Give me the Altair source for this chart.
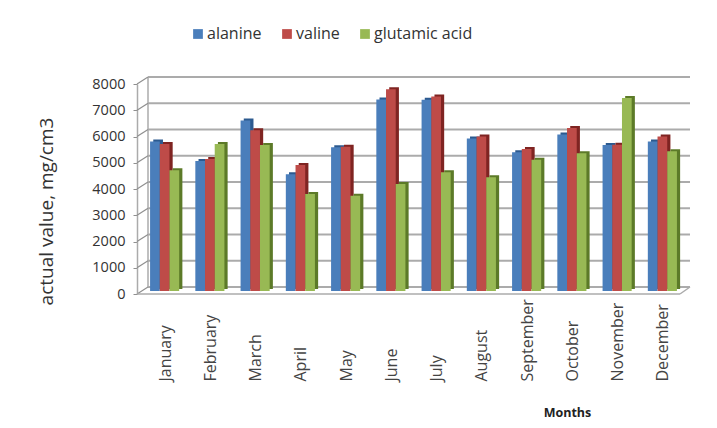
import altair as alt
import pandas as pd

months = ["January", "February", "March", "April", "May", "June", "July",
          "August", "September", "October", "November", "December"]
alanine = [5700, 4950, 6500, 4450, 5480, 7300, 7290, 5810, 5290, 5960, 5560, 5700]
valine = [5600, 5030, 6120, 4800, 5500, 7690, 7410, 5890, 5410, 6210, 5570, 5890]
glutamic = [4600, 5600, 5560, 3700, 3630, 4080, 4520, 4330, 5000, 5250, 7350, 5320]
series_names = ["alanine", "valine", "glutamic acid"]
front_colors = ["#4a7ebb", "#be4b48", "#98b954"]
side_colors = ["#2c5a8f", "#7f2422", "#5c7a28"]
ticks = [0, 1000, 2000, 3000, 4000, 5000, 6000, 7000, 8000]

GRID = "#ababab"
FONT = "Open Sans"
BAR_W = 9.7

rows = []
for name, vals in zip(series_names, [alanine, valine, glutamic]):
    for m, v in zip(months, vals):
        rows.append({"month": m, "series": name, "value": v})
data = pd.DataFrame(rows)
grid = pd.DataFrame({"v": ticks, "top": [8000] * len(ticks)})

y_scale = alt.Scale(domain=[0, 8000], range=[210, 0], nice=False)
x_scale = alt.Scale(domain=months, paddingInner=0.35, paddingOuter=0.175)

# Every layer shares one axis definition so that they merge into a single axis
y_axis = alt.Axis(values=ticks, title="actual value, mg/cm3", titleX=-81, titleY=127, titleFont=FONT,
                  titleFontSize=19, titleFontWeight="normal", titleColor="#333333", titleAngle=-90,
                  titleAnchor="middle", titleAlign="center", labelFont=FONT, labelFontSize=14.5,
                  labelColor="#333333", labelPadding=8, tickSize=4, tickColor="#8f8f8f",
                  domainColor=GRID, domainWidth=1.5, grid=False, format="d")
x_axis = alt.Axis(title="Months", titleX=430, titleY=112, titleFont=FONT, titleFontSize=12.5,
                  titleFontWeight="bold", titleColor="#222222", titleAnchor="middle", titleAlign="center",
                  labelAngle=-90, labelAlign="left", labelOffset=6, labelPadding=87, labelFont=FONT,
                  labelFontSize=16, labelColor="#444444", ticks=False, domain=False, grid=False)

y_plain = alt.Y("v:Q", scale=y_scale, axis=y_axis)
base = grid[grid.v == 0]

# Back wall: horizontal gridlines and its left edge
back = alt.Chart(grid).mark_rule(color=GRID, strokeWidth=2, yOffset=-7).encode(
    y=y_plain, x=alt.value(11), x2=alt.value(553))
wall_edge = alt.Chart(base).mark_rule(color=GRID, strokeWidth=1.5, yOffset=-7, y2Offset=-7).encode(
    x=alt.value(11), y=y_plain, y2=alt.Y2("top:Q"))
# Slanted ticks joining the front axis to the back wall
slants = alt.Chart(grid).mark_rule(color="#8f8f8f", strokeWidth=1.2, y2Offset=-7).encode(
    y=y_plain, y2=alt.Y2("v:Q"), x=alt.value(0), x2=alt.value(11))
# Floor outline
floor_front = alt.Chart(base).mark_rule(color=GRID, strokeWidth=1.5).encode(
    y=y_plain, x=alt.value(0), x2=alt.value(543))
floor_side = alt.Chart(base).mark_rule(color=GRID, strokeWidth=1.5, y2Offset=-7).encode(
    y=y_plain, y2=alt.Y2("v:Q"), x=alt.value(543), x2=alt.value(553))

bar_layers = []
for i, name in enumerate(series_names):
    subset = data[data.series == name]
    shift = -4.7 + i * BAR_W
    side = alt.Chart(subset).mark_bar(
        color=side_colors[i], width=BAR_W, xOffset=shift + 3.2, yOffset=-5, y2Offset=-4
    ).encode(
        x=alt.X("month:N", scale=x_scale, sort=months, axis=x_axis),
        y=alt.Y("value:Q", scale=y_scale, axis=y_axis),
    )
    front = alt.Chart(subset).mark_bar(
        color=front_colors[i], width=BAR_W, xOffset=shift, yOffset=-3, y2Offset=-3
    ).encode(
        x=alt.X("month:N", scale=x_scale, sort=months, axis=x_axis),
        y=alt.Y("value:Q", scale=y_scale, axis=y_axis),
    )
    bar_layers += [side, front]

# Invisible layer that carries the series legend
legend_src = alt.Chart(data).mark_square(size=0, opacity=0).encode(
    color=alt.Color("series:N",
                    scale=alt.Scale(domain=series_names, range=front_colors),
                    legend=alt.Legend(orient="none", legendX=53, legendY=-58, direction="horizontal",
                                      title=None, symbolType="square", symbolSize=95, symbolOpacity=1,
                                      labelFont=FONT, labelFontSize=16, labelColor="#333333",
                                      columnPadding=17, labelOffset=1)))

chart = alt.layer(back, wall_edge, slants, floor_front, floor_side, *bar_layers, legend_src).properties(
    width=543, height=210, background="white",
    padding={"left": 137, "top": 84, "right": 37, "bottom": 134},
    autosize=alt.AutoSizeParams(type="none"),
).configure_view(stroke=None)

chart.save("out.html", embed_options={"renderer": "svg", "actions": False})
